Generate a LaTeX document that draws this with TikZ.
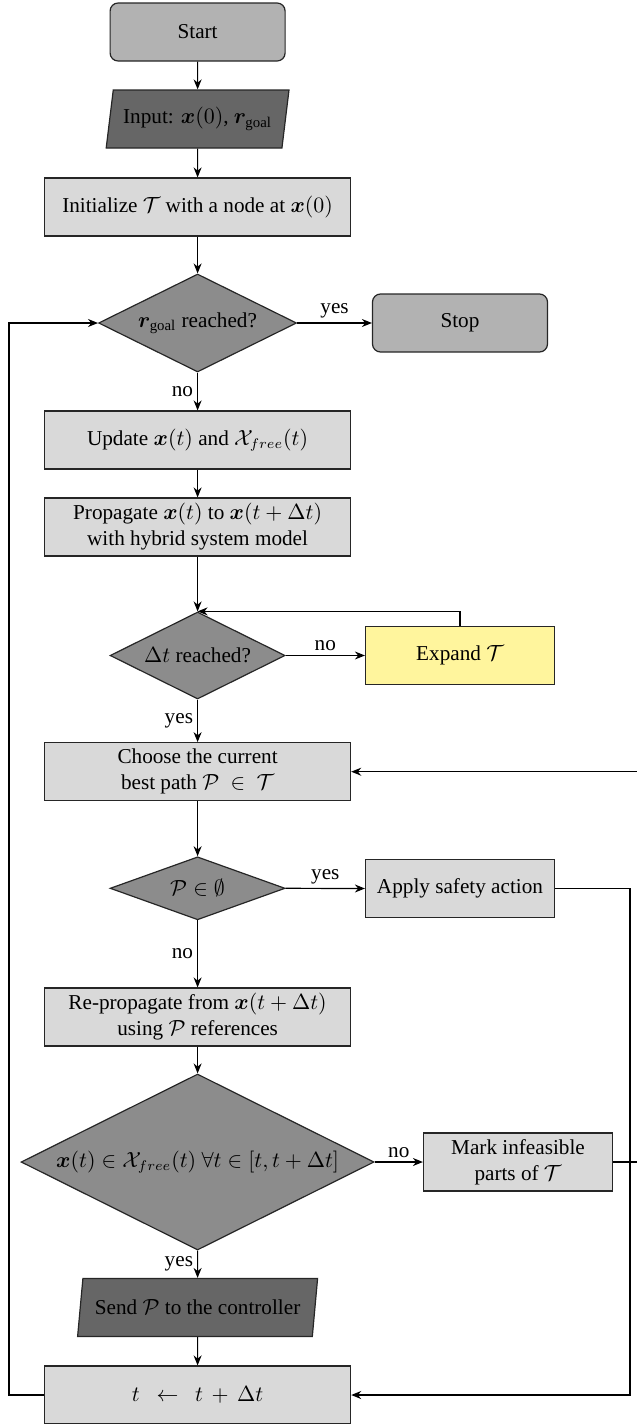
\documentclass[tikz,border=0pt]{standalone}
\usepackage{amsmath,amssymb,bm}
\usepackage{fontspec}
\setmainfont{Liberation Serif}
\usetikzlibrary{shapes.geometric,arrows.meta}
\definecolor{termfill}{gray}{0.70}
\definecolor{iofill}{gray}{0.40}
\definecolor{procfill}{gray}{0.85}
\definecolor{decfill}{gray}{0.55}
\definecolor{expfill}{RGB}{255,245,157}
\newcommand{\figfont}{\fontsize{10.6}{13}\selectfont}
\tikzset{
  base/.style={draw=black!85, line width=0.6pt, align=center, inner sep=2pt, font=\figfont},
  term/.style={base, rectangle, rounded corners=4pt, fill=termfill, minimum width=87.5pt, minimum height=29pt},
  io/.style={base, trapezium, trapezium left angle=78, trapezium right angle=102, trapezium stretches=true, fill=iofill, minimum height=29pt},
  proc/.style={base, rectangle, fill=procfill, minimum width=153pt, minimum height=29pt},
  side/.style={base, rectangle, fill=procfill, minimum width=94.5pt, minimum height=29pt},
  dec/.style={base, diamond, fill=decfill, inner sep=1pt},
  conn/.style={line width=0.6pt, -{Stealth[length=5pt,width=4pt]}},
  lab/.style={font=\figfont, inner sep=2pt}
}
\begin{document}
\begin{tikzpicture}[x=0.5pt, y=-0.5pt]
\useasboundingbox (0,0) rectangle (637,1424);
\clip (0,0) rectangle (637,1424);
\node[term] (start) at (197.6,32) {Start};
\node[io, minimum width=92pt] (in) at (197.6,119) {Input: $\bm{x}(0)$, $\bm{r}_{\text{goal}}$};
\node[proc] (init) at (197.6,207) {Initialize $\mathcal{T}$ with a node at $\bm{x}(0)$};
\node[dec, aspect=2.02, minimum width=99pt, minimum height=49pt] (d1) at (197.6,323) {$\bm{r}_{\text{goal}}$ reached?};
\node[term] (stop) at (460,323) {Stop};
\node[proc] (upd) at (197.6,440) {Update $\bm{x}(t)$ and $\mathcal{X}_{free}(t)$};
\node[proc] (prop) at (197.6,527) {Propagate $\bm{x}(t)$ to $\bm{x}(t+\Delta t)$\\with hybrid system model};
\node[dec, aspect=2.01, minimum width=87.5pt, minimum height=43.5pt] (d2) at (197.6,655.5) {$\Delta t$ reached?};
\node[side, fill=expfill] (exp) at (460,655.5) {Expand $\mathcal{T}$};
\node[proc] (choose) at (197.6,771.7) {Choose the current\\best path $\mathcal{P}\ \in\ \mathcal{T}$};
\node[dec, aspect=2.78, minimum width=87.5pt, minimum height=31.5pt] (d3) at (197.6,888.3) {$\mathcal{P}\in\emptyset$};
\node[side] (apply) at (460,888.5) {Apply safety action};
\node[proc] (rep) at (197.6,1017) {Re-propagate from $\bm{x}(t+\Delta t)$\\using $\mathcal{P}$ references};
\node[dec, aspect=2.0, minimum width=176.5pt, minimum height=88pt] (d4) at (197.6,1162) {$\bm{x}(t)\in\mathcal{X}_{free}(t)\ \forall t\in[t,t+\Delta t]$};
\node[side] (mark) at (518,1162) {Mark infeasible\\parts of $\mathcal{T}$};
\node[io, minimum width=120pt] (send) at (197.6,1307.5) {Send $\mathcal{P}$ to the controller};
\node[proc] (tb) at (197.6,1395) {$t\ \ \leftarrow\ \ t\,+\,\Delta t$};
\coordinate (lx) at (9,0);
\coordinate (rx) at (630,0);
\coordinate (fx) at (680,0);
\draw[conn] (start) -- (in);
\draw[conn] (in) -- (init);
\draw[conn] (init) -- (d1);
\draw[conn] (d1.east) -- node[lab, above] {yes} (stop.west);
\draw[conn] (d1.south) -- node[lab, left] {no} (upd.north);
\draw[conn] (upd) -- (prop);
\draw[conn] (prop.south) -- (d2.north);
\draw[conn] (d2.east) -- node[lab, above] {no} (exp.west);
\draw[conn] (exp.north) |- (d2.north);
\draw[conn] (d2.south) -- node[lab, left] {yes} (choose.north);
\draw[conn] (choose.south) -- (d3.north);
\draw[conn] (d3.east) -- node[lab, above] {yes} (apply.west);
\draw[conn] (d3.south) -- node[lab, left] {no} (rep.north);
\draw[conn] (rep.south) -- (d4.north);
\draw[conn] (d4.east) -- node[lab, above] {no} (mark.west);
\draw[conn] (d4.south) -- node[lab, left] {yes} (send.north);
\draw[conn] (send.south) -- (tb.north);
\draw[conn] (tb.west) -| (lx |- d1.west) -- (d1.west);
\draw[conn] (apply.east) -| (rx |- tb.east) -- (tb.east);
\draw[conn] (mark.east) -| (fx |- choose.east) -- (choose.east);
\end{tikzpicture}
\end{document}
